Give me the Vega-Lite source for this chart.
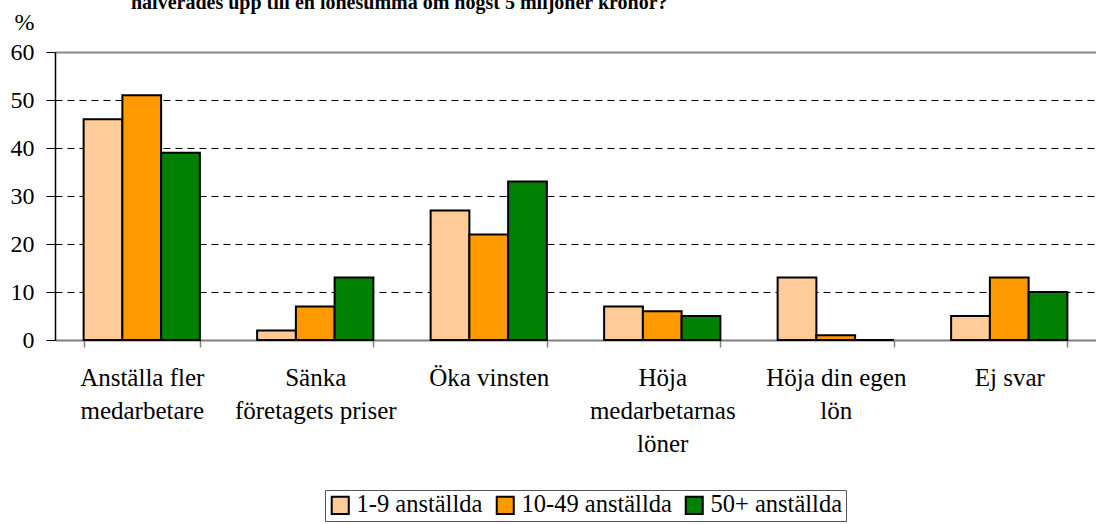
{
  "$schema": "https://vega.github.io/schema/vega-lite/v6.json",
  "autosize": {"type": "none"},
  "width": 1041,
  "height": 288,
  "padding": {"left": 55, "top": 52, "right": 0, "bottom": 184},
  "background": "white",
  "config": {
    "font": "Liberation Serif",
    "view": {"stroke": null}
  },
  "title": {
    "text": "halverades upp till en lönesumma om högst 5 miljoner kronor?",
    "font": "Liberation Serif",
    "fontSize": 20,
    "fontWeight": "bold",
    "anchor": "start",
    "frame": "group",
    "dx": 76,
    "offset": -3,
    "color": "black"
  },
  "data": {
    "values": [
      {"cat": "Anställa fler|medarbetare", "grp": "1-9 anställda", "v": 46},
      {"cat": "Anställa fler|medarbetare", "grp": "10-49 anställda", "v": 51},
      {"cat": "Anställa fler|medarbetare", "grp": "50+ anställda", "v": 39},
      {"cat": "Sänka|företagets priser", "grp": "1-9 anställda", "v": 2},
      {"cat": "Sänka|företagets priser", "grp": "10-49 anställda", "v": 7},
      {"cat": "Sänka|företagets priser", "grp": "50+ anställda", "v": 13},
      {"cat": "Öka vinsten", "grp": "1-9 anställda", "v": 27},
      {"cat": "Öka vinsten", "grp": "10-49 anställda", "v": 22},
      {"cat": "Öka vinsten", "grp": "50+ anställda", "v": 33},
      {"cat": "Höja|medarbetarnas|löner", "grp": "1-9 anställda", "v": 7},
      {"cat": "Höja|medarbetarnas|löner", "grp": "10-49 anställda", "v": 6},
      {"cat": "Höja|medarbetarnas|löner", "grp": "50+ anställda", "v": 5},
      {"cat": "Höja din egen|lön", "grp": "1-9 anställda", "v": 13},
      {"cat": "Höja din egen|lön", "grp": "10-49 anställda", "v": 1},
      {"cat": "Höja din egen|lön", "grp": "50+ anställda", "v": 0},
      {"cat": "Ej svar", "grp": "1-9 anställda", "v": 5},
      {"cat": "Ej svar", "grp": "10-49 anställda", "v": 13},
      {"cat": "Ej svar", "grp": "50+ anställda", "v": 10}
    ]
  },
  "mark": {"type": "bar", "stroke": "black", "strokeWidth": 2},
  "encoding": {
    "x": {
      "field": "cat",
      "type": "nominal",
      "sort": null,
      "scale": {"paddingInner": 0.33, "paddingOuter": 0.165},
      "axis": {
        "title": null,
        "labelAngle": 0,
        "labelExpr": "split(datum.label, '|')",
        "labelFontSize": 25,
        "labelLineHeight": 33,
        "labelColor": "black",
        "labelPadding": 18,
        "labelBaseline": "top",
        "domainColor": "#808080",
        "domainWidth": 2,
        "tickColor": "#808080",
        "tickWidth": 1.5,
        "tickSize": 7,
        "tickBand": "extent",
        "labelFont": "Liberation Serif"
      }
    },
    "xOffset": {"field": "grp", "type": "nominal", "scale": {"paddingInner": 0, "paddingOuter": 0}},
    "y": {
      "field": "v",
      "type": "quantitative",
      "scale": {"domain": [0, 60]},
      "axis": {
        "title": "%",
        "titleAngle": 0,
        "titleFontSize": 24,
        "titleFontWeight": "normal",
        "titleFont": "Liberation Serif",
        "titleX": -41,
        "titleY": -30,
        "titleAlign": "left",
        "titleBaseline": "middle",
        "titleColor": "black",
        "values": [0, 10, 20, 30, 40, 50, 60],
        "labelFontSize": 24,
        "labelColor": "black",
        "labelPadding": 12,
        "labelFont": "Liberation Serif",
        "domainColor": "black",
        "domainWidth": 1.5,
        "tickColor": "black",
        "tickSize": 9,
        "grid": true,
        "gridColor": {"condition": {"test": "datum.value == 60", "value": "#888888"}, "value": "black"},
        "gridDash": {"condition": {"test": "datum.value == 60", "value": []}, "value": [7, 5]},
        "gridWidth": {"condition": {"test": "datum.value == 60", "value": 2}, "value": 1}
      }
    },
    "color": {
      "field": "grp",
      "type": "nominal",
      "scale": {"domain": ["1-9 anställda", "10-49 anställda", "50+ anställda"], "range": ["#FFCC99", "#FF9900", "#008000"]},
      "legend": {
        "title": null,
        "orient": "none",
        "direction": "horizontal",
        "legendX": 270,
        "legendY": 438,
        "symbolType": "square",
        "symbolSize": 290,
        "symbolStrokeColor": "black",
        "symbolStrokeWidth": 2,
        "symbolOpacity": 1,
        "labelFontSize": 24.5,
        "labelColor": "black",
        "labelFont": "Liberation Serif",
        "labelOffset": 4,
        "columnPadding": 9,
        "strokeColor": "#555555",
        "padding": 3,
        "fillColor": "white"
      }
    }
  }
}
